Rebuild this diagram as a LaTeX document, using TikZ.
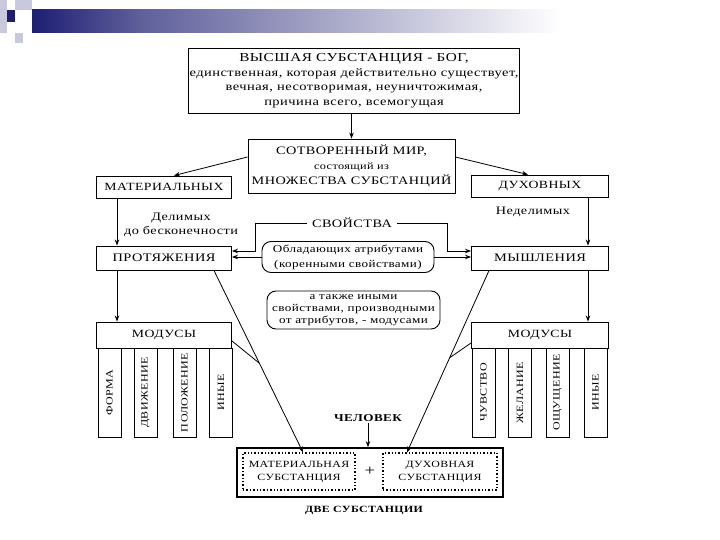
\documentclass[tikz,border=0pt]{standalone}
\usepackage{fontspec}
\setmainfont{Liberation Serif}[FakeStretch=1.25,LetterSpace=4]
\usetikzlibrary{arrows.meta,calc}
\definecolor{navy}{RGB}{30,30,115}
\definecolor{navymid}{RGB}{95,95,155}
\definecolor{lav}{RGB}{200,200,222}
\tikzset{
  box/.style={draw,line width=0.9pt,align=center,inner sep=1pt,font=\fontsize{11}{14}\selectfont},
  rbox/.style={box,rounded corners=9pt},
  modcol/.style={draw,line width=0.9pt,rotate=90,minimum width=89pt,minimum height=23pt,inner sep=0pt,font=\fontsize{9.6}{10}\selectfont},
  dotbox/.style={draw,dotted,line width=1.4pt,align=center,inner sep=1pt,font=\fontsize{9.5}{13}\selectfont},
  lbl/.style={align=center,inner sep=1pt,font=\fontsize{11.4}{14}\selectfont},
  conn/.style={line width=0.8pt}
}
\begin{document}
\begin{tikzpicture}[x=1pt,y=-1pt,>={Stealth[length=6pt,width=4.5pt]}]
\useasboundingbox (0,0) rectangle (720,540);
\fill[lav] (0,0) rectangle (7,33);
\fill[lav] (15,0) rectangle (32,10);
\fill[navy] (7,10) rectangle (15,22);
\fill[lav] (15,33) rectangle (23,43);
\shade[left color=navy,right color=navymid] (32,10) rectangle (140,33);
\shade[left color=navymid,right color=white] (140,10) rectangle (560,33);

\node[box,minimum width=326pt,minimum height=65pt,font=\fontsize{11.6}{14.5}\selectfont] (god) at (354,80.5)
  {{\fontsize{12.2}{14.5}\selectfont ВЫСШАЯ СУБСТАНЦИЯ - БОГ,}\\единственная, которая действительно существует,\\вечная, несотворимая, неуничтожимая,\\причина всего, всемогущая};
\node[box,minimum width=207pt,minimum height=54pt,font=\fontsize{11.4}{15}\selectfont] (world) at (351.5,166)
  {СОТВОРЕННЫЙ МИР,\\{\fontsize{9.8}{15}\selectfont состоящий из}\\МНОЖЕСТВА СУБСТАНЦИЙ};
\node[box,minimum width=135pt,minimum height=22pt] (mat) at (164,187) {МАТЕРИАЛЬНЫХ};
\node[box,minimum width=137pt,minimum height=22pt] (duh) at (540,186) {ДУХОВНЫХ};
\node[box,minimum width=135pt,minimum height=24pt,font=\fontsize{11.5}{14}\selectfont] (prot) at (164,258) {ПРОТЯЖЕНИЯ};
\node[box,minimum width=137pt,minimum height=24pt,font=\fontsize{11.5}{14}\selectfont] (mysl) at (540,258) {МЫШЛЕНИЯ};
\node[box,minimum width=135pt,minimum height=26pt] (modL) at (164,335) {МОДУСЫ};
\node[box,minimum width=137pt,minimum height=26pt] (modR) at (540,335) {МОДУСЫ};
\foreach \x/\t/\n in {109.5/ФОРМА/cl1,145.5/ДВИЖЕНИЕ/cl2,184.5/ПОЛОЖЕНИЕ/cl3,221/ИНЫЕ/cl4,
  483.5/ЧУВСТВО/cr1,520/ЖЕЛАНИЕ/cr2,557.5/ОЩУЩЕНИЕ/cr3,595.5/ИНЫЕ/cr4}
  \node[modcol] (\n) at (\x,392.5) {\t};

\node[lbl,inner xsep=5pt] (sv) at (352,223) {СВОЙСТВА};
\node[lbl] (delim) at (181,225) {Делимых\\до бесконечности};
\node[lbl] (nedelim) at (533,212) {Неделимых};
\node[rbox,minimum width=172pt,minimum height=31pt,font=\fontsize{10.5}{15}\selectfont] (attr) at (348,257)
  {Обладающих атрибутами\\(коренными свойствами)};
\node[rbox,minimum width=173pt,minimum height=38pt,inner sep=0pt,font=\fontsize{10.5}{12}\selectfont] (mods) at (353.5,310)
  {а также иными\\свойствами, производными\\от атрибутов, - модусами};

\node[lbl,font=\bfseries\fontsize{10.5}{12}\selectfont] (chel) at (368,418) {ЧЕЛОВЕК};
\node[draw,line width=1.8pt,minimum width=266pt,minimum height=49pt] (big) at (370,472.5) {};
\node[dotbox,minimum width=112pt,minimum height=37pt] (mats) at (299,471.5) {МАТЕРИАЛЬНАЯ\\СУБСТАНЦИЯ};
\node[dotbox,minimum width=114pt,minimum height=37pt] (duhs) at (440,471.5) {ДУХОВНАЯ\\СУБСТАНЦИЯ};
\node[font=\fontsize{15}{15}\selectfont] (plus) at (370,471) {+};
\node[lbl,font=\bfseries\fontsize{9.5}{12}\selectfont] (two) at (364,510) {ДВЕ СУБСТАНЦИИ};

\draw[conn,->] (world.north |- god.south) -- (world.north);
\draw[conn,->] ($(world.west)+(0,-9)$) -- ($(mat.north)+(10,0)$);
\draw[conn,->] ($(world.east)+(0,-9)$) -- ($(duh.north)+(-12,0)$);
\draw[conn,->] ($(mat.south)+(-47,0)$) -- ($(prot.north)+(-47,0)$);
\draw[conn,->] ($(prot.south)+(-47,0)$) -- ($(modL.north)+(-47,0)$);
\draw[conn,->] ($(duh.south)+(48,0)$) -- ($(mysl.north)+(48,0)$);
\draw[conn,->] ($(mysl.south)+(48,0)$) -- ($(modR.north)+(48,0)$);

\coordinate (svL) at ($(prot.east)+(23,-7)$);
\coordinate (svR) at ($(mysl.west)+(-24,-7)$);
\draw[conn,->] (sv.west) -| (svL) -- (prot.east |- svL);
\draw[conn,->] (sv.east) -| (svR) -- (mysl.west |- svR);
\draw[conn,->] (attr.west) -- (attr.west -| prot.east);
\draw[conn,->] (attr.east) -- (attr.east -| mysl.west);

\coordinate (pA) at ($(prot.south east)+(-18,0)$);
\coordinate (mA) at ($(mats.north)+(4,0)$);
\coordinate (pB) at ($(mysl.south west)+(18,0)$);
\coordinate (mB) at ($(duhs.north)+(-33,0)$);
\draw[conn,->] (pA) -- (mA);
\draw[conn] ($(modL.east)+(0,6)$) -- ($(pA)!0.51!(mA)$);
\draw[conn,->] (pB) -- (mB);
\draw[conn] ($(modR.west)+(0,8)$) -- ($(pB)!0.48!(mB)$);
\draw[conn,->] (chel) -- (chel |- big.north);
\end{tikzpicture}
\end{document}
